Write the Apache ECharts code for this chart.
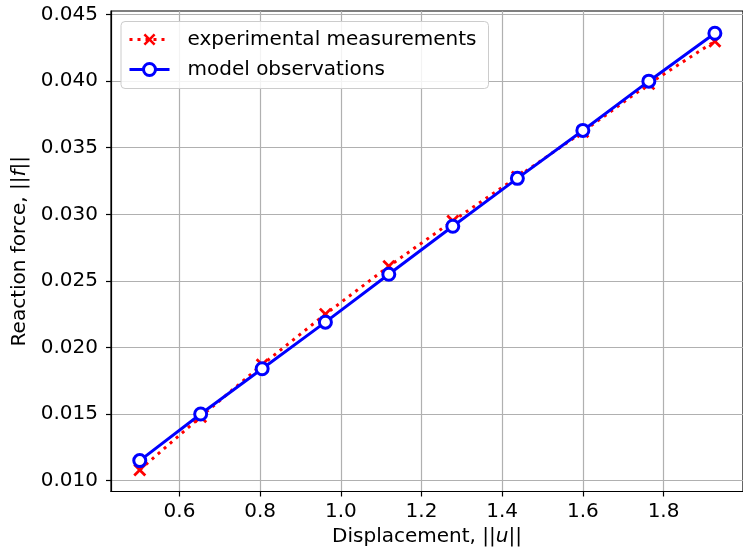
<!DOCTYPE html>
<html>
<head>
<meta charset="utf-8">
<script src="https://cdn.jsdelivr.net/npm/echarts@6/dist/echarts.min.js"></script>
<style>html,body{margin:0;padding:0;background:#fff;}#c{width:743px;height:552px;}</style>
</head>
<body>
<div id="c"></div>
<script>
const displacement = [0.5016, 0.6526, 0.805, 0.9618, 1.119, 1.2776, 1.4377, 1.600, 1.7636, 1.9273];
const experimental = [0.0108, 0.0148, 0.0187, 0.0225, 0.0261, 0.0295, 0.0328, 0.0362, 0.0398, 0.0430];
const model = [0.0115, 0.0150, 0.0184, 0.0219, 0.0255, 0.0291, 0.0327, 0.0363, 0.0400, 0.0436];
const xTicks = [0.6, 0.8, 1.0, 1.2, 1.4, 1.6, 1.8];
const yTicks = [0.010, 0.015, 0.020, 0.025, 0.030, 0.035, 0.040, 0.045];
const seriesNames = ['experimental measurements', 'model observations'];

const FONT = 'DejaVu Sans';
const xMark = 'path://M1.5,0 L5,3.5 L8.5,0 L10,1.5 L6.5,5 L10,8.5 L8.5,10 L5,6.5 L1.5,10 L0,8.5 L3.5,5 L0,1.5 Z';

const chart = echarts.init(document.getElementById('c'), null, {renderer: 'canvas'});
chart.setOption({
  animation: false,
  backgroundColor: '#ffffff',
  textStyle: {fontFamily: FONT},
  grid: {left: 111, top: 11, width: 640, height: 480.5, show: true, borderColor: '#000', borderWidth: 1.2, containLabel: false},
  legend: {
    data: [
      {name: seriesNames[0], itemStyle: {borderWidth: 0}, lineStyle: {width: 3, type: [3, 5], color: '#ff0000'}},
      {name: seriesNames[1], itemStyle: {borderWidth: 3, borderColor: '#0000ff', color: '#ffffff'}, lineStyle: {width: 3, color: '#0000ff'}}
    ],
    orient: 'vertical',
    left: 121, top: 21.5,
    padding: [8, 12, 9, 7],
    itemWidth: 40, itemHeight: 15, itemGap: 10,
    backgroundColor: 'rgba(255,255,255,0.85)',
    borderColor: '#cccccc', borderWidth: 1, borderRadius: 4,
    textStyle: {fontFamily: FONT, fontSize: 20, color: '#000', padding: [0, 0, 0, 13]}
  },
  xAxis: {
    type: 'value', min: 0.4303, max: 1.997,
    name: 'Displacement, ||{i|u}||', nameLocation: 'middle', nameGap: 33,
    nameTextStyle: {fontFamily: FONT, fontSize: 20, color: '#000', rich: {i: {fontFamily: FONT, fontSize: 20, fontStyle: 'italic', color: '#000'}}},
    axisLine: {show: true, onZero: false, lineStyle: {color: '#000', width: 1.2}},
    axisTick: {show: true, length: 5, lineStyle: {color: '#000', width: 1.2}, customValues: xTicks},
    axisLabel: {fontFamily: FONT, fontSize: 20, color: '#000', margin: 10, customValues: xTicks, formatter: v => v.toFixed(1)},
    splitLine: {show: true, lineStyle: {color: '#b0b0b0', width: 1.2}}
  },
  yAxis: {
    type: 'value', min: 0.00918, max: 0.04527,
    name: 'Reaction force, ||{i|f}||', nameLocation: 'middle', nameGap: 76,
    nameTextStyle: {fontFamily: FONT, fontSize: 20, color: '#000', rich: {i: {fontFamily: FONT, fontSize: 20, fontStyle: 'italic', color: '#000'}}},
    axisLine: {show: true, onZero: false, lineStyle: {color: '#000', width: 1.2}},
    axisTick: {show: true, length: 5, lineStyle: {color: '#000', width: 1.2}, customValues: yTicks},
    axisLabel: {fontFamily: FONT, fontSize: 20, color: '#000', margin: 13, customValues: yTicks, formatter: v => v.toFixed(3)},
    splitLine: {show: true, lineStyle: {color: '#b0b0b0', width: 1.2}}
  },
  series: [
    {
      name: seriesNames[0], type: 'line',
      data: displacement.map((x, i) => [x, experimental[i]]),
      symbol: xMark, symbolSize: 13,
      itemStyle: {color: '#ff0000', borderWidth: 0},
      lineStyle: {color: '#ff0000', width: 3, type: [3, 5]},
      z: 2
    },
    {
      name: seriesNames[1], type: 'line',
      data: displacement.map((x, i) => [x, model[i]]),
      symbol: 'circle', symbolSize: 12,
      itemStyle: {color: '#ffffff', borderColor: '#0000ff', borderWidth: 3},
      lineStyle: {color: '#0000ff', width: 3},
      z: 3
    }
  ]
});
</script>
</body>
</html>
